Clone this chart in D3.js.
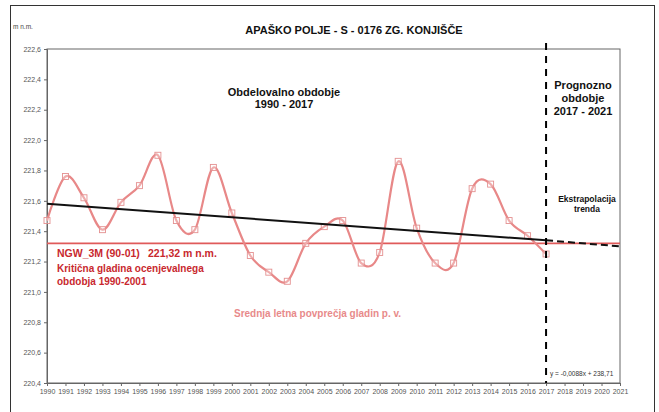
<!DOCTYPE html>
<html><head><meta charset="utf-8">
<script src="https://cdn.jsdelivr.net/npm/d3@7"></script>
<style>body{margin:0;background:#fff;font-family:"Liberation Sans",Arial,sans-serif}</style>
</head><body><svg id="c" width="659" height="412"></svg>
<script>
const years = d3.range(1990, 2018);
const levels = [221.47,221.76,221.62,221.41,221.59,221.70,221.90,221.47,221.41,221.82,
                221.52,221.24,221.13,221.07,221.32,221.43,221.47,221.19,221.26,221.86,
                221.42,221.19,221.19,221.68,221.71,221.47,221.37,221.25];
const trendObs = [{year:1990, v:221.58},{year:2017, v:221.34}];
const trendExt = [{year:2017, v:221.34},{year:2021, v:221.30}];
const criticalLevel = 221.32;
const yTicks = [220.4,220.6,220.8,221.0,221.2,221.4,221.6,221.8,222.0,222.2,222.4,222.6];
const xTicks = d3.range(1990, 2022);
const splitYear = 2017;

const svg = d3.select("#c");
const L=47, R=620, T=49, B=383;
const x = d3.scaleLinear().domain([1990,2021]).range([L,R]);
const y = d3.scaleLinear().domain([220.4,222.6]).range([B,T]);
const fmt = v => d3.format(".1f")(v).replace(".", ",");

// outer frame
svg.append("rect").attr("x",10.5).attr("y",5.5).attr("width",644).attr("height",420)
  .attr("fill","none").attr("stroke","#333").attr("stroke-width",1);

// plot box
svg.append("rect").attr("x",L).attr("y",T).attr("width",R-L).attr("height",B-T)
  .attr("fill","none").attr("stroke","#666").attr("stroke-width",1);

// y axis
const ya = svg.append("g").attr("transform",`translate(${L},0)`)
  .call(d3.axisLeft(y).tickValues(yTicks).tickFormat(fmt).tickSize(3).tickPadding(3));
ya.select(".domain").attr("stroke","#666");
ya.selectAll("line").attr("stroke","#666");
ya.selectAll("text").attr("fill","#555").style("font-size","7px").style("font-family","Liberation Sans, Arial");

// x axis
const xa = svg.append("g").attr("transform",`translate(0,${B})`)
  .call(d3.axisBottom(x).tickValues(xTicks).tickFormat(d3.format("d")).tickSize(3).tickPadding(3));
xa.select(".domain").attr("stroke","#666");
xa.selectAll("line").attr("stroke","#666");
xa.selectAll("text").attr("fill","#555").style("font-size","7px").style("font-family","Liberation Sans, Arial");

// critical level
svg.append("line").attr("x1",x(1990)).attr("x2",x(2021)).attr("y1",y(criticalLevel)).attr("y2",y(criticalLevel))
  .attr("stroke","#e05a5a").attr("stroke-width",1.6);

// series
const data = years.map((yr,i)=>({year:yr, v:levels[i]}));
const line = d3.line().x(d=>x(d.year)).y(d=>y(d.v)).curve(d3.curveCatmullRom.alpha(0));
svg.append("path").datum(data).attr("d",line).attr("fill","none")
  .attr("stroke","#e88888").attr("stroke-width",2.2);
svg.selectAll("rect.m").data(data).join("rect").attr("class","m")
  .attr("x",d=>x(d.year)-3).attr("y",d=>y(d.v)-3).attr("width",6).attr("height",6)
  .attr("fill","#fff").attr("fill-opacity",0.3).attr("stroke","#e49090").attr("stroke-width",0.9);

// trend
const tl = d3.line().x(d=>x(d.year)).y(d=>y(d.v));
svg.append("path").datum(trendObs).attr("d",tl).attr("fill","none").attr("stroke","#111").attr("stroke-width",2);
svg.append("path").datum(trendExt).attr("d",tl).attr("fill","none").attr("stroke","#111").attr("stroke-width",2)
  .attr("stroke-dasharray","7,4");

// split line
svg.append("line").attr("x1",x(splitYear)).attr("x2",x(splitYear)).attr("y1",43).attr("y2",B)
  .attr("stroke","#000").attr("stroke-width",2).attr("stroke-dasharray","7,6");

function txt(t,xx,yy,size,color,anchor,weight){
  return svg.append("text").attr("x",xx).attr("y",yy).text(t).attr("fill",color)
    .attr("text-anchor",anchor||"middle").style("font-size",size+"px")
    .style("font-weight",weight||"bold").style("font-family","Liberation Sans, Arial");
}
txt("m n.m.",13,29,6.5,"#444","start","normal");
txt("APAŠKO POLJE - S - 0176 ZG. KONJIŠČE",354,34,11,"#111");
txt("Obdelovalno obdobje",284,96,11,"#111");
txt("1990 - 2017",284,108,11,"#111");
txt("Prognozno",583,89,11,"#111");
txt("obdobje",583,102,11,"#111");
txt("2017 - 2021",583,115,11,"#111");
txt("Ekstrapolacija",587,202,8.5,"#111");
txt("trenda",587,212,8.5,"#111");
txt("NGW_3M  (90-01)",57,257,10.5,"#c8282e","start");
txt("221,32 m n.m.",148,257,10.5,"#c8282e","start");
txt("Kritična gladina ocenjevalnega",57,272,10,"#c8282e","start");
txt("obdobja 1990-2001",57,285,10,"#c8282e","start");
txt("Srednja letna povprečja gladin p. v.",234,317,10,"#e88a8a","start");
txt("y = -0,0088x + 238,71",550,376,6.5,"#333","start","normal");
</script></body></html>
